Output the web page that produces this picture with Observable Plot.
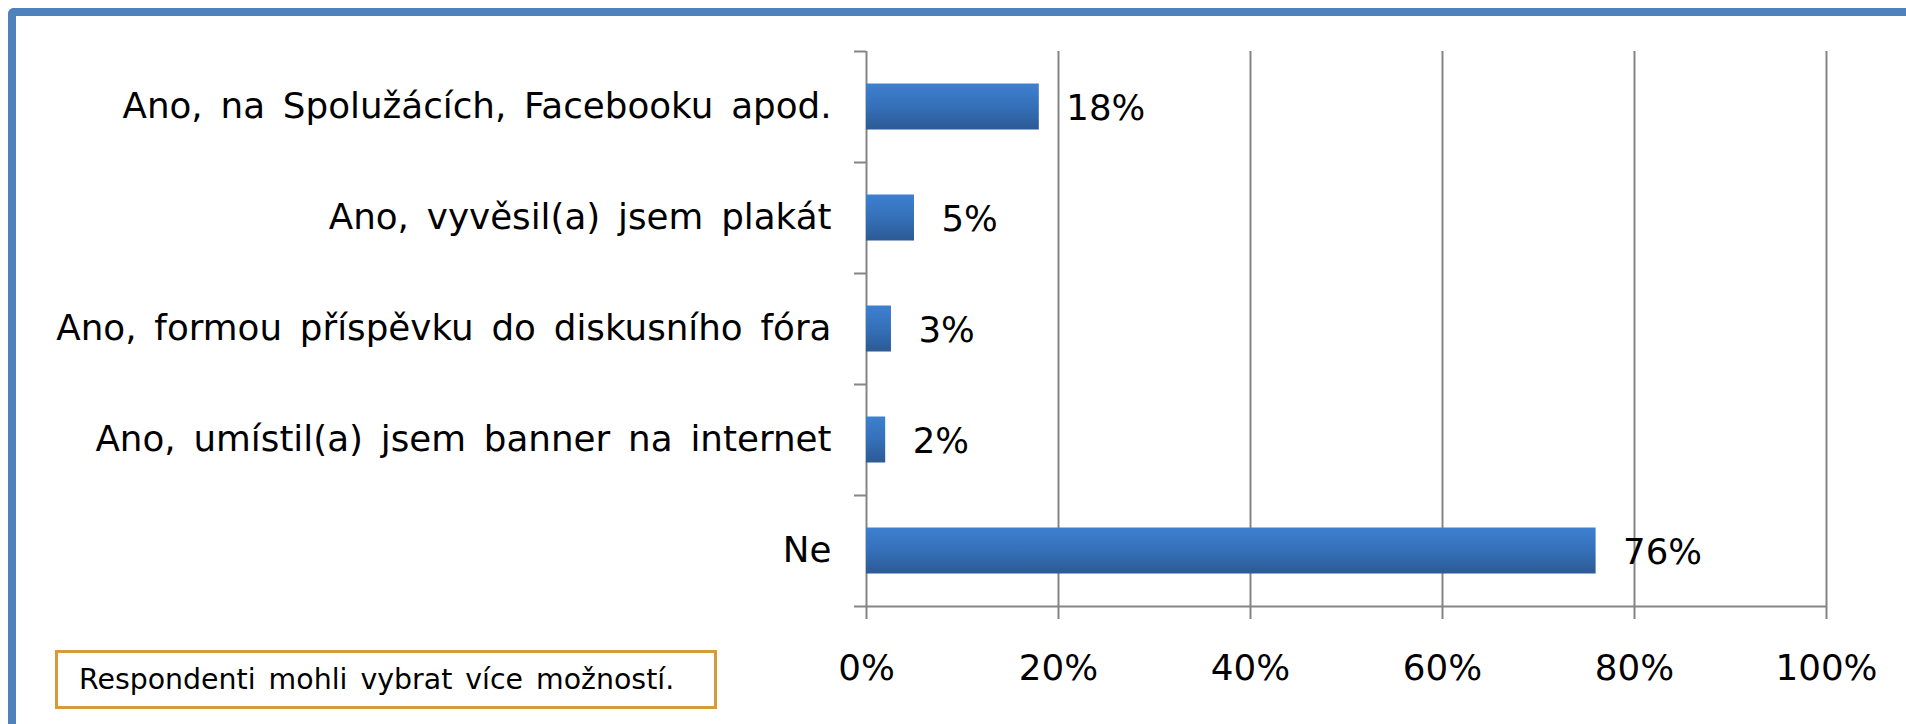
<!DOCTYPE html>
<html>
<head>
<meta charset="utf-8">
<script src="https://cdn.jsdelivr.net/npm/d3@7"></script>
<script src="https://cdn.jsdelivr.net/npm/@observablehq/plot@0.6"></script>
<style>
  html, body { margin: 0; padding: 0; background: #fff; }
  body { width: 1906px; height: 724px; overflow: hidden; position: relative; font-family: "DejaVu Sans", Verdana, sans-serif; }
  #frame { position: absolute; left: 8px; top: 8px; width: 1920px; height: 800px; border-left: 8px solid #4F81BD; border-top: 8px solid #4F81BD; border-top-left-radius: 6px; box-sizing: border-box; }
  #chart { position: absolute; left: 0; top: 0; }
  #note { position: absolute; left: 55px; top: 650px; width: 662px; height: 59px; box-sizing: border-box; border: 3px solid #D59B3A; background: #fff; font-family: "DejaVu Sans", sans-serif; font-size: 28.4px; word-spacing: 4px; padding-left: 21px; display: flex; align-items: center; color: #000; white-space: nowrap; }
</style>
</head>
<body>
<div id="frame"></div>
<div id="chart"></div>
<div id="note">Respondenti mohli vybrat více možností.</div>
<script>
// ---- data ----
const categories = [
  "Ano, na Spolužácích, Facebooku apod.",
  "Ano, vyvěsil(a) jsem plakát",
  "Ano, formou příspěvku do diskusního fóra",
  "Ano, umístil(a) jsem banner na internet",
  "Ne"
];
const values = [18, 5, 2.6, 2, 76];
const valueLabels = ["18%", "5%", "3%", "2%", "76%"];
const xTicks = [0, 20, 40, 60, 80, 100];

// ---- layout ----
const W = 1906, H = 724;
const marginLeft = 866, marginRight = 80, marginTop = 51, marginBottom = 118;
const step = (H - marginTop - marginBottom) / categories.length;
const barThickness = 46;
const inset = (step - barThickness) / 2;
const gray = "#858585";

const data = categories.map((c, i) => ({category: c, value: values[i], label: valueLabels[i]}));

const chart = Plot.plot({
  width: W,
  height: H,
  marginLeft, marginRight, marginTop, marginBottom,
  style: {fontFamily: "DejaVu Sans", fontSize: "35.7px", color: "#000", background: "transparent", wordSpacing: "6.5px"},
  x: {domain: [0, 100], ticks: xTicks, tickFormat: d => d + "%", tickSize: 0, tickPadding: 48, label: null},
  y: {domain: categories, padding: 0, tickSize: 0, tickPadding: 35, label: null},
  marks: [
    Plot.ruleX(xTicks, {x: d => d, stroke: gray, strokeWidth: 2, insetBottom: -13}),
    Plot.ruleY(categories, {y: d => d, x1: 0, x2: 0, insetLeft: -12, dy: -step / 2, stroke: gray, strokeWidth: 2}),
    Plot.ruleY([categories[categories.length - 1]], {y: d => d, x1: 0, x2: 100, insetLeft: -12, dy: step / 2, stroke: gray, strokeWidth: 2}),
    Plot.barX(data, {x: "value", y: "category", fill: "url(#barGrad)", insetTop: inset, insetBottom: inset}),
    Plot.text(data, {x: "value", y: "category", text: "label", textAnchor: "start", dx: 27, dy: 2, fontSize: 35.5, fill: "#000"})
  ]
});

const defs = d3.select(chart).insert("defs", ":first-child");
const grad = defs.append("linearGradient").attr("id", "barGrad").attr("x1", 0).attr("y1", 0).attr("x2", 0).attr("y2", 1);
grad.append("stop").attr("offset", "0%").attr("stop-color", "#3E80D0");
grad.append("stop").attr("offset", "50%").attr("stop-color", "#3570B9");
grad.append("stop").attr("offset", "100%").attr("stop-color", "#2C5A94");

document.getElementById("chart").appendChild(chart);
</script>
</body>
</html>
